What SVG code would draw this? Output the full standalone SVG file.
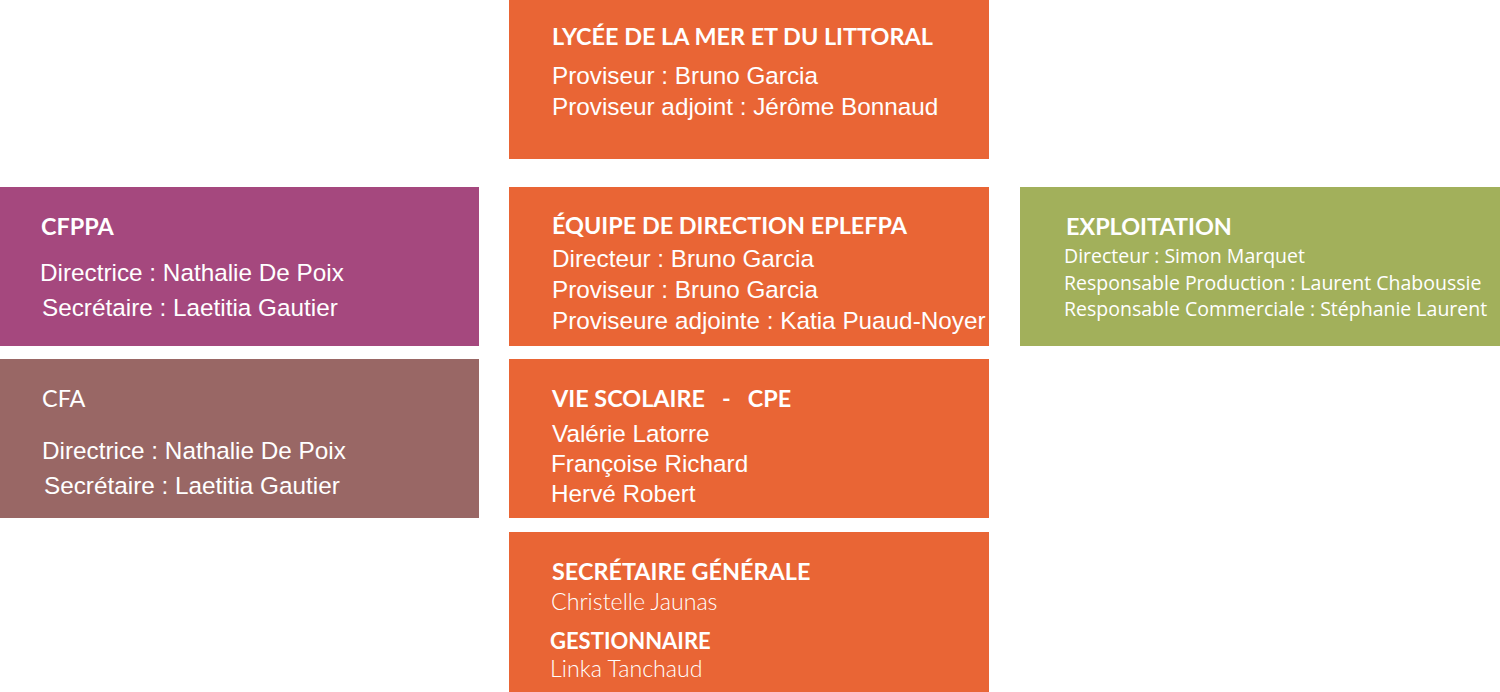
<svg xmlns="http://www.w3.org/2000/svg" width="1500" height="692" viewBox="0 0 1500 692">
<style>
.orange{fill:#E96535}
.purple{fill:#A5487E}
.brown{fill:#996765}
.green{fill:#A2B05B}
.h{font-family:Lato,"Open Sans",sans-serif;font-weight:700;font-size:23.4px;fill:#fff}
.g{font-family:Lato,"Open Sans",sans-serif;font-weight:700;font-size:22px;fill:#fff}
.hl{font-family:Lato,"Open Sans",sans-serif;font-weight:400;font-size:23.4px;fill:#fff}
.b{font-family:"Liberation Sans",Arial,sans-serif;font-size:24.3px;fill:#fff}
.m{font-family:"Open Sans",Lato,sans-serif;font-size:19.5px;fill:#fff}
.l{font-family:Lato,"Open Sans",sans-serif;font-weight:300;font-size:23.2px;fill:#fff}
</style>
<rect width="1500" height="692" fill="#fff"/>
<g id="connectors"></g>
<g id="lycee">
<rect class="orange" x="509" y="0" width="480" height="159"/>
<text class="h" x="552" y="45">LYCÉE DE LA MER ET DU LITTORAL</text>
<text class="b" x="552" y="84">Proviseur : Bruno Garcia</text>
<text class="b" x="552" y="115">Proviseur adjoint : Jérôme Bonnaud</text>
</g>
<g id="cfppa">
<rect class="purple" x="0" y="187" width="479" height="159"/>
<text class="h" x="41" y="235">CFPPA</text>
<text class="b" x="40" y="281">Directrice : Nathalie De Poix</text>
<text class="b" x="42" y="316">Secrétaire : Laetitia Gautier</text>
</g>
<g id="cfa">
<rect class="brown" x="0" y="359" width="479" height="159"/>
<text class="hl" x="42" y="407">CFA</text>
<text class="b" x="42" y="459">Directrice : Nathalie De Poix</text>
<text class="b" x="44" y="494">Secrétaire : Laetitia Gautier</text>
</g>
<g id="direction">
<rect class="orange" x="509" y="187" width="480" height="159"/>
<text class="h" x="552" y="234">ÉQUIPE DE DIRECTION EPLEFPA</text>
<text class="b" x="552" y="267">Directeur : Bruno Garcia</text>
<text class="b" x="552" y="298">Proviseur : Bruno Garcia</text>
<text class="b" x="552" y="329">Proviseure adjointe : Katia Puaud-Noyer</text>
</g>
<g id="vie-scolaire">
<rect class="orange" x="509" y="359" width="480" height="159"/>
<text class="h" x="552" y="407" xml:space="preserve">VIE SCOLAIRE   -   CPE</text>
<text class="b" x="552" y="442">Valérie Latorre</text>
<text class="b" x="551" y="472">Françoise Richard</text>
<text class="b" x="551" y="502">Hervé Robert</text>
</g>
<g id="secretaire">
<rect class="orange" x="509" y="532" width="480" height="160"/>
<text class="h" x="552" y="580">SECRÉTAIRE GÉNÉRALE</text>
<text class="l" x="551" y="610">Christelle Jaunas</text>
<text class="g" x="550" y="649">GESTIONNAIRE</text>
<text class="l" x="550" y="677">Linka Tanchaud</text>
</g>
<g id="exploitation">
<rect class="green" x="1020" y="187" width="480" height="159"/>
<text class="h" x="1066" y="235">EXPLOITATION</text>
<text class="m" x="1064" y="263">Directeur : Simon Marquet</text>
<text class="m" x="1064" y="290">Responsable Production : Laurent Chaboussie</text>
<text class="m" x="1064" y="316">Responsable Commerciale : Stéphanie Laurent</text>
</g>
</svg>
